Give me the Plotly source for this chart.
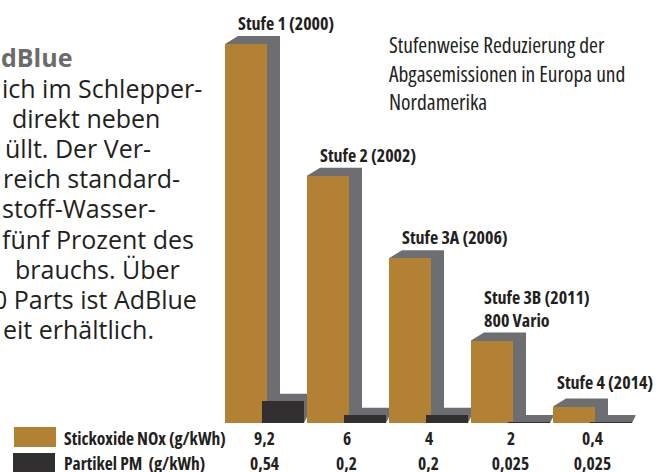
import plotly.graph_objects as go

# ---------------- data ----------------
stages = ["Stufe 1 (2000)", "Stufe 2 (2002)", "Stufe 3A (2006)",
          "Stufe 3B (2011)<br>800 Vario", "Stufe 4 (2014)"]
nox = [9.2, 6, 4, 2, 0.4]            # Stickoxide NOx (g/kWh)
pm = [0.54, 0.2, 0.2, 0.025, 0.025]  # Partikel PM (g/kWh)
series_names = ["Stickoxide NOx (g/kWh)", "Partikel PM\u00a0 (g/kWh)"]
title_lines = ["Stufenweise Reduzierung der", "Abgasemissionen in Europa und", "Nordamerika"]
body_heading = "dBlue"
body_lines = ["ich im Schlepper-", "direkt neben", "üllt. Der Ver-", "reich standard-",
              "stoff-Wasser-", "fünf Prozent des", "brauchs. Über",
              "0 Parts ist AdBlue", "eit erhältlich."]

# ---------------- style ----------------
W, H = 657, 472
BROWN = "#B38134"
GRAY = "#6D6E72"
BLACK = "#312F30"
TEXT = "#231F20"
COND = "OSC, Open Sans, sans-serif"      # Open Sans, narrowed by font-stretch below
BODY = "Open Sans, sans-serif"

PX_PER_CAT = 82.0
PX_PER_UNIT = 41.2
BASE_PY = 423
CENTER0_PX = 264.5

def pxx(x):
    return x / W

def pxy(y):
    return 1 - y / H

idx = list(range(len(nox)))
bw = 42 / PX_PER_CAT
off_b = -39.5 / PX_PER_CAT
off_k = -2.5 / PX_PER_CAT

fig = go.Figure()
fig.add_trace(go.Bar(x=idx, y=nox, width=bw, offset=off_b, name=series_names[0],
                     marker=dict(color=BROWN, line=dict(width=0)), hoverinfo="y"))
fig.add_trace(go.Bar(x=idx, y=pm, width=bw, offset=off_k, name=series_names[1],
                     marker=dict(color=BLACK, line=dict(width=0)), hoverinfo="y"))

shapes = []

def shadow(xl, top, dxp, dyp):
    dx = dxp / PX_PER_CAT
    dy = dyp / PX_PER_UNIT
    xr = xl + bw
    return (f"M {xl},{top} L {xl+dx},{top+dy} L {xr+dx},{top+dy} "
            f"L {xr+dx},{dy} L {xr},0 Z")

for i, v in enumerate(nox):
    shapes.append(dict(type="path", xref="x", yref="y", layer="below",
                       path=shadow(i + off_b, v, 13, 8),
                       fillcolor=GRAY, line=dict(width=0)))
for i, v in enumerate(pm):
    shapes.append(dict(type="path", xref="x", yref="y", layer="below",
                       path=shadow(i + off_k, v, 3.5, 7),
                       fillcolor=GRAY, line=dict(width=0)))

# legend swatches
shapes.append(dict(type="rect", xref="paper", yref="paper", x0=pxx(14), x1=pxx(56),
                   y0=pxy(447), y1=pxy(427), fillcolor=BROWN, line=dict(width=0)))
shapes.append(dict(type="rect", xref="paper", yref="paper", x0=pxx(13), x1=pxx(55),
                   y0=pxy(473), y1=pxy(453), fillcolor=BLACK, line=dict(width=0)))

ann = []
# stage labels
label_dx = [-28.5, -28.5, -28.5, -28.5, -37.5]
label_dy = [7, 7, 7, 7, 11]
for i, (s, v) in enumerate(zip(stages, nox)):
    ann.append(dict(x=i, y=v, xref="x", yref="y", text=s, showarrow=False,
                    xanchor="left", yanchor="bottom", xshift=label_dx[i], yshift=label_dy[i],
                    align="left",
                    font=dict(family=COND, size=18, color=TEXT, weight="bold")))

def fmt(v):
    return f"{v:g}".replace(".", ",")

# table rows
for row_y, vals in ((438, nox), (462.5, pm)):
    for i, v in enumerate(vals):
        ann.append(dict(x=i, y=pxy(row_y), xref="x", yref="paper", text=fmt(v),
                        showarrow=False, xanchor="center", yanchor="middle", align="center",
                        font=dict(family=COND, size=17.5, color=TEXT, weight="bold")))
for row_y, name in ((438, series_names[0]), (462.5, series_names[1])):
    ann.append(dict(x=pxx(62), y=pxy(row_y), xref="paper", yref="paper", text=name,
                    showarrow=False, xanchor="left", yanchor="middle", align="left",
                    font=dict(family=COND, size=17.5, color=TEXT, weight="bold")))

# chart title
for k, line in enumerate(title_lines):
    ann.append(dict(x=pxx(387), y=pxy(45 + 28.5 * k), xref="paper", yref="paper",
                    text=line, showarrow=False, xanchor="left", yanchor="middle", align="left",
                    font=dict(family=COND, size=21.5, color=TEXT)))

# body text (cropped article column)
ann.append(dict(x=pxx(-1), y=pxy(57), xref="paper", yref="paper", text=body_heading,
                showarrow=False, xanchor="left", yanchor="middle", align="left",
                font=dict(family=BODY, size=25, color="#6B6B6B", weight="bold")))
body_x = [0, 10, 3, 1, 0, 0, 13, -9, 1]
for k, (line, bx) in enumerate(zip(body_lines, body_x)):
    ann.append(dict(x=pxx(bx), y=pxy(88 + 30.1 * k), xref="paper", yref="paper",
                    text=line, showarrow=False, xanchor="left", yanchor="middle", align="left",
                    font=dict(family=BODY, size=25, color=TEXT)))

fig.update_layout(
    width=W, height=H, autosize=False,
    margin=dict(l=0, r=0, t=0, b=0, pad=0),
    paper_bgcolor="white", plot_bgcolor="white",
    barmode="overlay", bargap=0, showlegend=False,
    xaxis=dict(domain=[0, 1], range=[-CENTER0_PX / PX_PER_CAT, (W - CENTER0_PX) / PX_PER_CAT],
               visible=False, fixedrange=True),
    yaxis=dict(domain=[pxy(BASE_PY), 1], range=[0, BASE_PY / PX_PER_UNIT],
               visible=False, fixedrange=True),
    shapes=shapes, annotations=ann,
)

js = """
document.body.style.margin = '0';
var gd = document.getElementById('{plot_id}');
function condense() {
  gd.querySelectorAll('text').forEach(function (e) {
    if ((e.style.fontFamily || '').indexOf('OSC') >= 0) e.style.fontStretch = 'condensed';
  });
}
condense();
if (gd.on) gd.on('plotly_afterplot', condense);
"""
fig.write_html("out.html", post_script=js, config={"displayModeBar": False, "staticPlot": True})
